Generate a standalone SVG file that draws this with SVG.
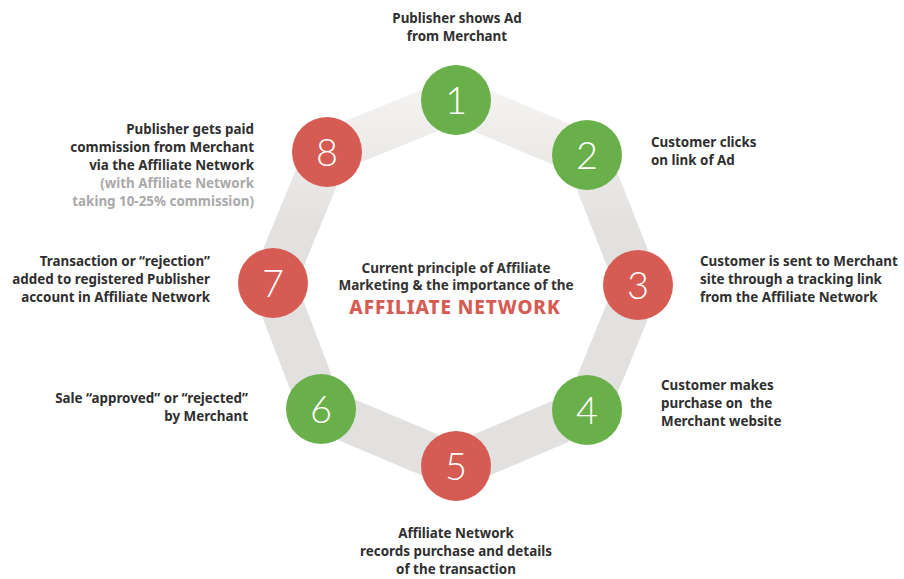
<svg xmlns="http://www.w3.org/2000/svg" width="904" height="579" viewBox="0 0 904 579">
<defs>
<linearGradient id="ringGrad" gradientUnits="userSpaceOnUse" x1="0" y1="95" x2="0" y2="230">
<stop offset="0" stop-color="#f3f2f1"/>
<stop offset="1" stop-color="#e2e1e0"/>
</linearGradient>
<style>
.seg{stroke:url(#ringGrad);stroke-width:44;stroke-linecap:butt;fill:none}
.green{fill:#6ab04a}
.red{fill:#d65b53}
.num{font-family:"Lato","Open Sans",sans-serif;font-weight:300;font-size:38px;fill:#ffffff;text-anchor:middle}
.lbl{font-family:"Noto Sans","Open Sans",sans-serif;font-weight:700;font-size:13.4px;fill:#2f2f2f}
.gray{fill:#a9a9a9}
.mid{text-anchor:middle}
.end{text-anchor:end}
.title{font-family:"Noto Sans","Open Sans",sans-serif;font-weight:700;font-size:13.5px;fill:#333;text-anchor:middle}
.big{font-family:"Noto Sans","Open Sans",sans-serif;font-weight:800;font-size:19px;letter-spacing:0.9px;fill:#d65b53;text-anchor:middle}
</style>
</defs>
<rect width="904" height="579" fill="#ffffff"/>
<g id="connectors">
<path class="seg" d="M456,100 L587,155 L638,285 L587,410 L456,466 L321,409 L273,283 L327,152 Z" stroke-linejoin="round"/>
</g>
<g id="node1"><circle class="green" cx="456" cy="100" r="35"/><text class="num" x="456" y="114">1</text>
<text class="lbl mid" x="457" y="23">Publisher shows Ad</text><text class="lbl mid" x="457" y="41">from Merchant</text></g>
<g id="node2"><circle class="green" cx="587" cy="155" r="35"/><text class="num" x="587" y="169">2</text>
<text class="lbl" x="651" y="147">Customer clicks</text><text class="lbl" x="651" y="165">on link of Ad</text></g>
<g id="node3"><circle class="red" cx="638" cy="285" r="35"/><text class="num" x="638" y="299">3</text>
<text class="lbl" x="700" y="266">Customer is sent to Merchant</text><text class="lbl" x="700" y="284">site through a tracking link</text><text class="lbl" x="700" y="302">from the Affiliate Network</text></g>
<g id="node4"><circle class="green" cx="587" cy="410" r="35"/><text class="num" x="587" y="424">4</text>
<text class="lbl" x="661" y="390">Customer makes</text><text class="lbl" x="661" y="408" xml:space="preserve">purchase on  the</text><text class="lbl" x="661" y="426">Merchant website</text></g>
<g id="node5"><circle class="red" cx="456" cy="466" r="35"/><text class="num" x="456" y="480">5</text>
<text class="lbl mid" x="456" y="538">Affiliate Network</text><text class="lbl mid" x="456" y="556">records purchase and details</text><text class="lbl mid" x="456" y="574">of the transaction</text></g>
<g id="node6"><circle class="green" cx="321" cy="409" r="35"/><text class="num" x="321" y="423">6</text>
<text class="lbl end" x="248" y="403">Sale “approved” or “rejected”</text><text class="lbl end" x="248" y="421">by Merchant</text></g>
<g id="node7"><circle class="red" cx="273" cy="283" r="35"/><text class="num" x="273" y="297">7</text>
<text class="lbl end" x="210" y="266">Transaction or “rejection”</text><text class="lbl end" x="210" y="284">added to registered Publisher</text><text class="lbl end" x="210" y="302">account in Affiliate Network</text></g>
<g id="node8"><circle class="red" cx="327" cy="152" r="35"/><text class="num" x="327" y="166">8</text>
<text class="lbl end" x="254" y="134">Publisher gets paid</text><text class="lbl end" x="254" y="152">commission from Merchant</text><text class="lbl end" x="254" y="170">via the Affiliate Network</text>
<text class="lbl end gray" x="254" y="188">(with Affiliate Network</text><text class="lbl end gray" x="254" y="206">taking 10-25% commission)</text></g>
<g id="center">
<text class="title" x="456" y="273">Current principle of Affiliate</text>
<text class="title" x="456" y="290">Marketing &amp; the importance of the</text>
<text class="big" x="455" y="314">AFFILIATE NETWORK</text>
</g>
</svg>
